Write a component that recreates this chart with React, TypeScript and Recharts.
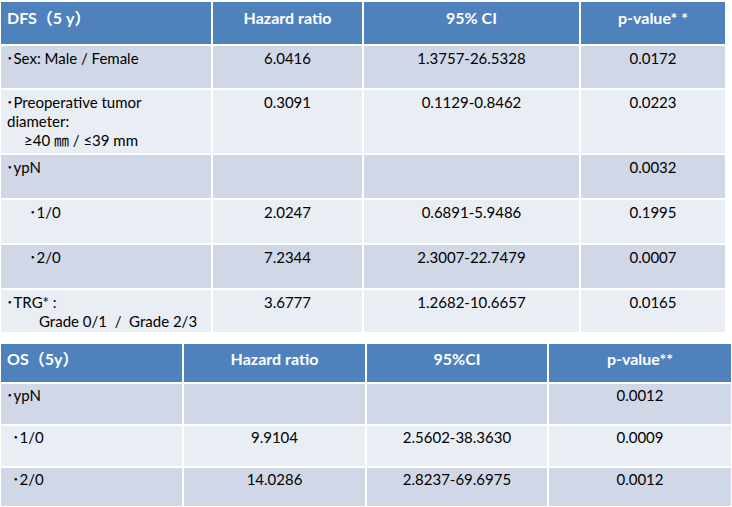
import React from 'react';
import { Surface, Layer, Rectangle, Text } from 'recharts';

// DFS (5 y) table
const dfsHeaders = ['DFS（5 y）', 'Hazard ratio', '95% CI', 'p-value* *'];
const dfsLabels = [
  ['･Sex: Male / Female'],
  ['･Preoperative tumor', 'diameter:', '≥40 ㎜ / ≤39 mm'],
  ['･ypN'],
  ['･1/0'],
  ['･2/0'],
  ['･TRG* :', 'Grade 0/1\u00A0\u00A0/\u00A0\u00A0Grade 2/3'],
];
const dfsHazard = ['6.0416', '0.3091', '', '2.0247', '7.2344', '3.6777'];
const dfsCI = ['1.3757-26.5328', '0.1129-0.8462', '', '0.6891-5.9486', '2.3007-22.7479', '1.2682-10.6657'];
const dfsP = ['0.0172', '0.0223', '0.0032', '0.1995', '0.0007', '0.0165'];

// OS (5y) table
const osHeaders = ['OS（5y）', 'Hazard ratio', '95%CI', 'p-value**'];
const osLabels = [['･ypN'], ['･1/0'], ['･2/0']];
const osHazard = ['', '9.9104', '14.0286'];
const osCI = ['', '2.5602-38.3630', '2.8237-69.6975'];
const osP = ['0.0012', '0.0009', '0.0012'];

// layout (pixels), kept apart from the data
const WIDTH = 732;
const HEIGHT = 507;
const dfsLayout = {
  rowEdges: [1, 45, 89, 154, 199, 244, 289, 333],
  colEdges: [0, 212, 363, 580, 726],
  labelX: [[6], [6, 7, 24], [6], [29], [29], [6, 39]],
  headerBase: 23,
  rowBase: 18.5,
};
const osLayout = {
  rowEdges: [343, 383, 425, 467, 507],
  colEdges: [0, 183, 366, 548, 732],
  labelX: [[6], [12], [12]],
  headerBase: 22,
  rowBase: 17.5,
};

const HEADER_FILL = '#4F81BD';
const DARK_FILL = '#D0D8E8';
const LIGHT_FILL = '#E9EDF4';
const FONT = "Lato, 'Noto Sans CJK JP', sans-serif";
const LINE_GAP = 19;

interface TableProps {
  headers: string[];
  labels: string[][];
  columns: string[][];
  layout: typeof dfsLayout;
}

const StatTable: React.FC<TableProps> = ({ headers, labels, columns, layout }) => {
  const { rowEdges, colEdges, labelX, headerBase, rowBase } = layout;
  const cells: React.ReactNode[] = [];

  for (let r = 0; r < rowEdges.length - 1; r++) {
    const y0 = rowEdges[r];
    const h = rowEdges[r + 1] - y0;
    const fill = r === 0 ? HEADER_FILL : r % 2 === 1 ? DARK_FILL : LIGHT_FILL;
    for (let c = 0; c < colEdges.length - 1; c++) {
      const x0 = colEdges[c];
      const w = colEdges[c + 1] - x0;
      cells.push(
        <Rectangle key={`cell-${r}-${c}`} x={x0 + 1} y={y0 + 1} width={w - 2} height={h - 2} fill={fill} />
      );
    }
  }

  const texts: React.ReactNode[] = [];
  headers.forEach((hd, c) => {
    const center = (colEdges[c] + colEdges[c + 1]) / 2;
    texts.push(
      <Text
        key={`h-${c}`}
        x={c === 0 ? 7 : center}
        y={rowEdges[0] + headerBase}
        textAnchor={c === 0 ? 'start' : 'middle'}
        fill="#ffffff"
        style={{ fontFamily: FONT, fontSize: 16, fontWeight: 700 }}
      >
        {hd}
      </Text>
    );
  });

  labels.forEach((lines, i) => {
    const base = rowEdges[i + 1] + rowBase;
    lines.forEach((line, j) => {
      texts.push(
        <Text
          key={`l-${i}-${j}`}
          x={labelX[i][j]}
          y={base + j * LINE_GAP}
          textAnchor="start"
          fill="#000000"
          style={{ fontFamily: FONT, fontSize: 15 }}
        >
          {line}
        </Text>
      );
    });
    columns.forEach((col, c) => {
      if (!col[i]) return;
      const center = (colEdges[c + 1] + colEdges[c + 2]) / 2;
      texts.push(
        <Text
          key={`v-${i}-${c}`}
          x={center}
          y={base}
          textAnchor="middle"
          fill="#000000"
          style={{ fontFamily: FONT, fontSize: 15 }}
        >
          {col[i]}
        </Text>
      );
    });
  });

  return (
    <Layer>
      {cells}
      {texts}
    </Layer>
  );
};

const App: React.FC = () => {
  return (
    <div style={{ position: 'absolute', left: 0, top: 0, width: WIDTH, height: HEIGHT, background: '#ffffff' }}>
      <Surface width={WIDTH} height={HEIGHT} viewBox={{ x: 0, y: 0, width: WIDTH, height: HEIGHT }}>
        <StatTable headers={dfsHeaders} labels={dfsLabels} columns={[dfsHazard, dfsCI, dfsP]} layout={dfsLayout} />
        <StatTable headers={osHeaders} labels={osLabels} columns={[osHazard, osCI, osP]} layout={osLayout} />
      </Surface>
    </div>
  );
};

export default App;
